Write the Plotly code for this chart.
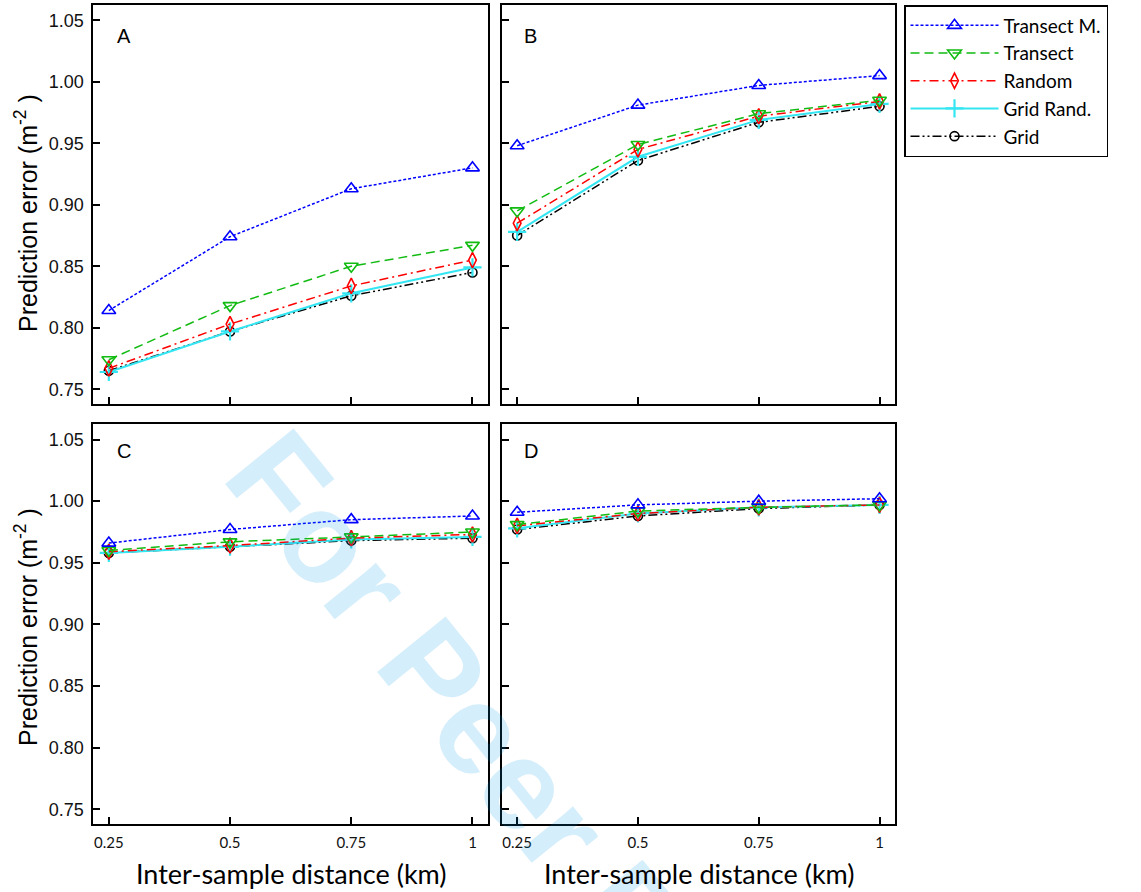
import plotly.graph_objects as go

W, H = 1141, 892

distance_km = [0.25, 0.5, 0.75, 1]
x_tick_text = ["0.25", "0.5", "0.75", "1"]
y_tick_vals = [0.75, 0.80, 0.85, 0.90, 0.95, 1.00, 1.05]
y_tick_text = ["0.75", "0.80", "0.85", "0.90", "0.95", "1.00", "1.05"]

series_names = ["Transect M.", "Transect", "Random", "Grid Rand.", "Grid"]
panel_labels = ["A", "B", "C", "D"]

A_transect_m = [0.814, 0.874, 0.913, 0.930]
A_transect = [0.774, 0.818, 0.850, 0.867]
A_random = [0.767, 0.803, 0.834, 0.855]
A_grid_rand = [0.764, 0.797, 0.828, 0.849]
A_grid = [0.765, 0.797, 0.826, 0.845]
B_transect_m = [0.948, 0.981, 0.997, 1.005]
B_transect = [0.895, 0.949, 0.974, 0.985]
B_random = [0.885, 0.945, 0.972, 0.984]
B_grid_rand = [0.878, 0.939, 0.969, 0.982]
B_grid = [0.875, 0.936, 0.967, 0.980]
C_transect_m = [0.966, 0.977, 0.985, 0.988]
C_transect = [0.960, 0.967, 0.971, 0.975]
C_random = [0.959, 0.964, 0.970, 0.973]
C_grid_rand = [0.958, 0.963, 0.969, 0.971]
C_grid = [0.958, 0.963, 0.968, 0.970]
D_transect_m = [0.991, 0.997, 1.000, 1.002]
D_transect = [0.981, 0.992, 0.995, 0.997]
D_random = [0.980, 0.990, 0.995, 0.997]
D_grid_rand = [0.978, 0.990, 0.995, 0.997]
D_grid = [0.977, 0.988, 0.994, 0.997]

panels = [
    [A_transect_m, A_transect, A_random, A_grid_rand, A_grid],
    [B_transect_m, B_transect, B_random, B_grid_rand, B_grid],
    [C_transect_m, C_transect, C_random, C_grid_rand, C_grid],
    [D_transect_m, D_transect, D_random, D_grid_rand, D_grid],
]

styles = {
    "Transect M.": dict(color="#0000ff", dash="3px,2px", width=1.5,
                        symbol="triangle-up-open", size=12, mlw=1.6),
    "Transect": dict(color="#11bb11", dash="9px,5px", width=1.5,
                     symbol="triangle-down-open", size=12, mlw=1.6),
    "Random": dict(color="#ff0000", dash="9px,4px,2px,4px", width=1.5,
                   symbol="diamond-tall-open", size=11, mlw=1.6),
    "Grid Rand.": dict(color="#33e6f2", dash="solid", width=2,
                       symbol="cross-thin-open", size=13, mlw=2.2),
    "Grid": dict(color="#000000", dash="9px,3px,2px,3px,2px,3px", width=1.5,
                 symbol="circle-open", size=9, mlw=1.6),
}

fig = go.Figure()
axis_ids = ["", "2", "3", "4"]
draw_order = ["Grid", "Grid Rand.", "Random", "Transect", "Transect M."]
for p, ax in enumerate(axis_ids):
    for name in draw_order:
        i = series_names.index(name)
        s = styles[name]
        fig.add_trace(go.Scatter(
            x=distance_km, y=panels[p][i], name=name, legendgroup=name,
            showlegend=(p == 0), mode="lines+markers",
            line=dict(color=s["color"], dash=s["dash"], width=s["width"]),
            marker=dict(symbol=s["symbol"], size=s["size"], color=s["color"],
                        line=dict(color=s["color"], width=s["mlw"])),
            xaxis="x" + ax, yaxis="y" + ax,
        ))

px_x = lambda v: v / W
px_y = lambda v: 1 - v / H

xdom_left = [px_x(93.3), px_x(488)]
xdom_right = [px_x(501.7), px_x(895)]
ydom_top = [px_y(404), px_y(5)]
ydom_bot = [px_y(824), px_y(424.3)]

tick_font_y = dict(family="Liberation Sans Narrow, Liberation Sans, Arial", size=18, color="#111")
tick_font_x = dict(family="Lato, Open Sans, sans-serif", size=15, color="#111")

common = dict(showline=True, mirror=True, linecolor="black", linewidth=1.8,
              ticks="inside", tickcolor="black", tickwidth=1.5, ticklen=7,
              showgrid=False, zeroline=False)

def xa(dom, anchor, labels):
    return dict(common, domain=dom, anchor=anchor, range=[0.218, 1.032],
                tickvals=distance_km, ticktext=x_tick_text,
                showticklabels=labels, tickfont=tick_font_x, ticklabelstandoff=4)

def ya(dom, anchor, labels):
    return dict(common, domain=dom, anchor=anchor, range=[0.738, 1.0624],
                tickvals=y_tick_vals, ticktext=y_tick_text,
                showticklabels=labels, tickfont=tick_font_y, ticklabelstandoff=4)

fig.update_layout(
    width=W, height=H, margin=dict(l=0, r=0, t=0, b=0),
    paper_bgcolor="white", plot_bgcolor="white",
    xaxis=xa(xdom_left, "y", False), yaxis=ya(ydom_top, "x", True),
    xaxis2=xa(xdom_right, "y2", False), yaxis2=ya(ydom_top, "x2", False),
    xaxis3=xa(xdom_left, "y3", True), yaxis3=ya(ydom_bot, "x3", True),
    xaxis4=xa(xdom_right, "y4", True), yaxis4=ya(ydom_bot, "x4", False),
    legend=dict(x=px_x(904), y=px_y(5), xanchor="left", yanchor="top",
                bordercolor="black", borderwidth=1.5, bgcolor="white",
                traceorder="reversed", itemwidth=88, tracegroupgap=0,
                font=dict(family="Lato, Open Sans, sans-serif", size=19, color="black")),
    showlegend=True,
)

annotations = []
# journal watermark
annotations.append(dict(text="<b>For Peer Review</b>", x=px_x(568), y=px_y(836),
                        xref="paper", yref="paper", showarrow=False, textangle=51,
                        xanchor="center", yanchor="middle",
                        font=dict(family="Liberation Sans, Arial", size=128,
                                  color="rgba(0,150,230,0.165)")))
label_pos = [(115, 36), (522, 36), (115, 451), (522, 451)]
for lab, (lx, ly) in zip(panel_labels, label_pos):
    annotations.append(dict(text=lab, x=px_x(lx), y=px_y(ly), xref="paper", yref="paper",
                            showarrow=False, xanchor="left", yanchor="middle",
                            font=dict(family="Liberation Sans, Arial", size=20, color="black")))
for cy in (213, 627):
    annotations.append(dict(text="Prediction error (m<sup>-2</sup> )", x=px_x(26), y=px_y(cy),
                            xref="paper", yref="paper", showarrow=False, textangle=-90,
                            xanchor="center", yanchor="middle",
                            font=dict(family="Liberation Sans, Arial", size=25, color="black")))
for cx in (291, 699):
    annotations.append(dict(text="Inter-sample distance (km)", x=px_x(cx), y=px_y(873),
                            xref="paper", yref="paper", showarrow=False,
                            xanchor="center", yanchor="middle",
                            font=dict(family="Lato, Open Sans, sans-serif", size=27, color="black")))
fig.update_layout(annotations=annotations)

fig.write_html("out.html")
